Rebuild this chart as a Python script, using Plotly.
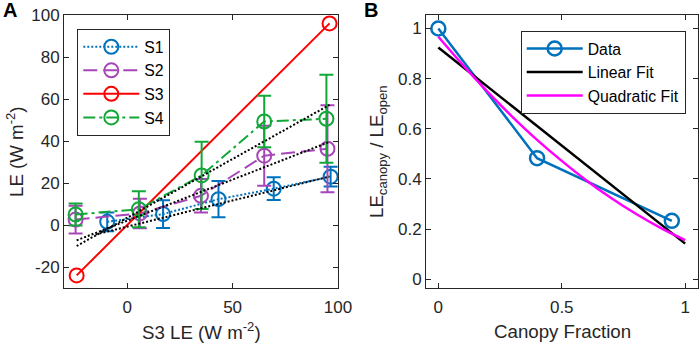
import plotly.graph_objects as go

# ---------- Panel A data ----------
s1_x = [-9.5, 17, 43.3, 69.5, 96.5]
s1_y = [1.5, 5.2, 12.3, 17.3, 23.0]
s1_e = [4.5, 6.6, 8.6, 5.4, 4.7]

s2_x = [-24.5, 6, 35, 65, 95]
s2_y = [2.6, 5.5, 13.9, 33.0, 36.3]
s2_e = [6.6, 7.0, 8.0, 14.3, 20.7]

s3_x = [-24, 96]
s3_y = [-24, 96]

s4_x = [-24.5, 5.5, 35.3, 65, 94.5]
s4_y = [5.0, 7.5, 23.6, 49.3, 50.6]
s4_e = [5.2, 8.6, 16.0, 12.3, 21.0]

fit1_x = [-15, 96]
fit1_y = [-4.5, 23.1]
fit2_x = [-24, 96]
fit2_y = [-7.3, 39.6]
fit4_x = [-24, 96]
fit4_y = [-10.0, 57.2]

a_yticks = [-20, 0, 20, 40, 60, 80, 100]
a_yticktext = ["-20", "0", "20", "40", "60", "80", "100"]
a_xticks = [0, 50, 100]

# ---------- Panel B data ----------
frac = [0, 0.4, 0.946]
ratio = [1.0, 0.483, 0.233]
lin_x = [0, 1]
lin_y = [0.924, 0.142]
quad_x = [0, 0.1, 0.2, 0.3, 0.4, 0.5, 0.6, 0.7, 0.8, 0.9, 1.0]
quad_y = [0.967, 0.854, 0.747, 0.648, 0.556, 0.472, 0.394, 0.324, 0.261, 0.205, 0.156]
b_xticks = [0, 0.5, 1]
b_xticktext = ["0", "0.5", "1"]
b_yticks = [0, 0.2, 0.4, 0.6, 0.8, 1]
b_yticktext = ["0", "0.2", "0.4", "0.6", "0.8", "1"]

BLUE = "#0072BD"
PURPLE = "#A646B8"
RED = "#FF0000"
GREEN = "#12A838"
AX = "#262626"
FONT = "Liberation Sans, Arial, Helvetica, sans-serif"

W, H = 699, 346
def px(x):
    return x / W
def py(y):
    return 1 - y / H

fig = go.Figure()

def series(x, y, e, color, dash, name):
    fig.add_trace(go.Scatter(
        x=x, y=y, name=name, mode="lines+markers",
        line=dict(color=color, width=2, dash=dash),
        marker=dict(symbol="circle-open", size=14, color=color, line=dict(width=2, color=color)),
        error_y=(dict(type="data", array=e, visible=True, color=color, thickness=2, width=7) if e else None),
        xaxis="x", yaxis="y", legend="legend",
    ))

series(s1_x, s1_y, s1_e, BLUE, "2px,2px", "S1")
series(s2_x, s2_y, s2_e, PURPLE, "14px,6px", "S2")
series(s3_x, s3_y, None, RED, "solid", "S3")
series(s4_x, s4_y, s4_e, GREEN, "12px,4px,3px,4px", "S4")

for fx, fy in [(fit1_x, fit1_y), (fit2_x, fit2_y), (fit4_x, fit4_y)]:
    fig.add_trace(go.Scatter(x=fx, y=fy, mode="lines", showlegend=False,
                             line=dict(color="black", width=2, dash="2px,2px"),
                             xaxis="x", yaxis="y"))

# Panel B
fig.add_trace(go.Scatter(x=frac, y=ratio, name="Data", mode="lines+markers",
                         line=dict(color=BLUE, width=2.5),
                         marker=dict(symbol="circle-open", size=14, color=BLUE, line=dict(width=2.5, color=BLUE)),
                         xaxis="x2", yaxis="y2", legend="legend2"))
fig.add_trace(go.Scatter(x=lin_x, y=lin_y, name="Linear Fit", mode="lines",
                         line=dict(color="black", width=2.5),
                         xaxis="x2", yaxis="y2", legend="legend2"))
fig.add_trace(go.Scatter(x=quad_x, y=quad_y, name="Quadratic Fit", mode="lines",
                         line=dict(color="#FF00FF", width=2.5, shape="spline"),
                         xaxis="x2", yaxis="y2", legend="legend2"))

axis_common = dict(showgrid=False, zeroline=False, showline=True, linecolor=AX, linewidth=1,
                   mirror="allticks", ticks="inside", ticklen=5, tickcolor=AX, tickwidth=1,
                   automargin=False,
                   tickfont=dict(family=FONT, size=17, color=AX))

ydom = [py(288), py(15)]
fig.update_layout(
    width=W, height=H, autosize=False,
    margin=dict(l=0, r=0, t=0, b=0, pad=0),
    paper_bgcolor="white", plot_bgcolor="white",
    font=dict(family=FONT, color=AX),
    xaxis=dict(domain=[px(64), px(338)], range=[-30, 100], tickvals=a_xticks, anchor="y",
               ticklabelstandoff=4, **axis_common),
    yaxis=dict(domain=ydom, range=[-30, 100], tickvals=a_yticks, ticktext=a_yticktext, anchor="x", **axis_common),
    xaxis2=dict(domain=[px(426), px(697.5)], range=[-0.05, 1.05], tickvals=b_xticks, ticktext=b_xticktext,
                anchor="y2", ticklabelstandoff=4, **axis_common),
    yaxis2=dict(domain=ydom, range=[-0.035, 1.054], tickvals=b_yticks, ticktext=b_yticktext, anchor="x2", **axis_common),
    legend=dict(x=px(77.3), y=py(29), xanchor="left", yanchor="top", bgcolor="white",
                bordercolor=AX, borderwidth=1, itemwidth=56, font=dict(family=FONT, size=15.8, color="black"),
                tracegroupgap=0),
    legend2=dict(x=px(520.7), y=py(30.7), xanchor="left", yanchor="top", bgcolor="white",
                 bordercolor=AX, borderwidth=1, itemwidth=56, font=dict(family=FONT, size=15.8, color="black"),
                 tracegroupgap=0),
    showlegend=True,
)

ann = []
def title(text, x, y, angle=0, size=18.7, bold=False):
    ann.append(dict(text=("<b>%s</b>" % text) if bold else text, x=px(x), y=py(y), xref="paper", yref="paper",
                    showarrow=False, textangle=angle, xanchor="center", yanchor="middle",
                    font=dict(family=FONT, size=size, color=AX if not bold else "black")))

title("S3 LE (W m<sup>-2</sup>)", 201, 331)
title("LE (W m<sup>-2</sup>)", 15, 152, angle=-90)
title("Canopy Fraction", 562, 331)
title("LE<sub>canopy</sub> / LE<sub>open</sub>", 378, 152, angle=-90)
title("A", 10, 10, size=20, bold=True)
title("B", 371, 10, size=20, bold=True)
fig.update_layout(annotations=ann)

fig.write_html("out.html",
               config={"displayModeBar": False, "responsive": False},
               post_script="document.body.style.margin='0px';document.body.style.overflow='hidden';")
